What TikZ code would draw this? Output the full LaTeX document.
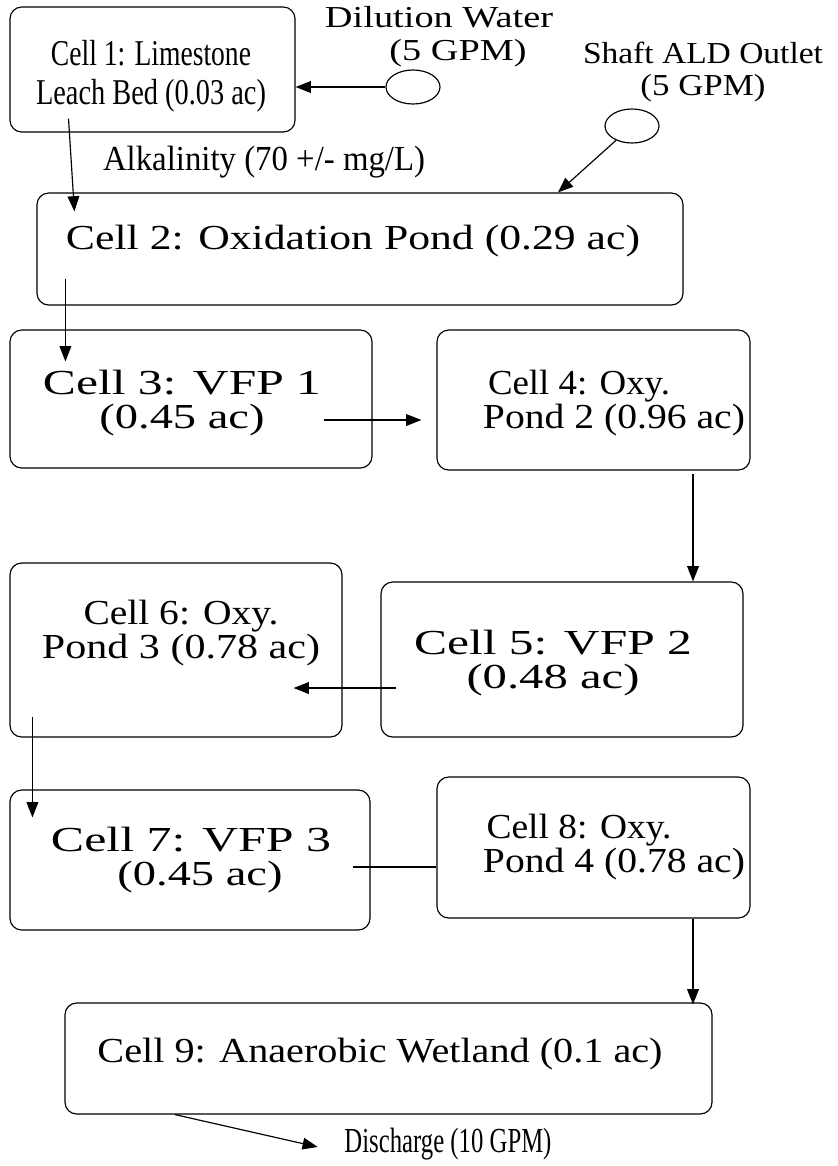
\documentclass[tikz,border=0pt]{standalone}
\usepackage{fontspec}
\setmainfont{Liberation Serif}
\usepackage{graphicx}
\usetikzlibrary{arrows.meta,shapes.geometric}

% one pixel of the layout grid, and a line squeezed/stretched to a given width
\newlength\pxu
\setlength\pxu{0.03cm}
\newcommand{\fitw}[2]{\resizebox{#1\pxu}{\height}{#2}}

\begin{document}
\begin{tikzpicture}[
    x=0.03cm, y=-0.03cm,
    >={Triangle[length=13pt,width=10pt]},
    cell/.style 2 args={
        draw=black,
        line width=1pt,
        rounded corners=10pt,
        minimum width=#1*0.03cm,
        minimum height=#2*0.03cm,
        inner sep=0pt
    },
    source/.style={draw=black, ellipse, line width=1pt, inner sep=0pt,
        minimum width=54*0.03cm, minimum height=34*0.03cm},
    txt/.style={align=center, inner sep=0pt, font=\fontsize{30}{29.5}\selectfont},
    small/.style={align=center, inner sep=0pt, font=\fontsize{26}{28}\selectfont},
    flow/.style={->, line width=1pt},
    link/.style={line width=1pt}
]
\useasboundingbox (0,0) rectangle (838,1166);

% --- Cells ---
\node[cell={285}{125}] (c1) at (152.5,69.5) {};
\node[cell={646}{112}] (c2) at (360,249) {};
\node[cell={362}{138}] (c3) at (191,399) {};
\node[cell={313}{140}] (c4) at (593.5,400) {};
\node[cell={362}{155}] (c5) at (562,659.5) {};
\node[cell={332}{174}] (c6) at (176,650) {};
\node[cell={360}{140}] (c7) at (190,860) {};
\node[cell={313}{141}] (c8) at (593.5,847.5) {};
\node[cell={647}{111}] (c9) at (388.5,1058.5) {};

% --- Cell texts ---
\node[txt, font=\fontsize{31}{33}\selectfont] (t1) at (151,76)
    {\fitw{200}{Cell 1: Limestone}\\\fitw{230}{Leach Bed (0.03 ac)}};
\node[txt] (t2) at (353,241) {\fitw{574}{Cell 2: Oxidation Pond (0.29 ac)}};
\node[txt] (t3) at (182,403) {\fitw{278}{Cell 3: VFP 1}\\\fitw{165}{(0.45 ac)}};
\node[txt] (t4) at (579,403) {\fitw{182}{Cell 4: Oxy.}\\\hspace*{70\pxu}\fitw{262}{Pond 2 (0.96 ac)}};
\node[txt] (t5) at (553,663) {\fitw{278}{Cell 5: VFP 2}\\\fitw{173}{(0.48 ac)}};
\node[txt] (t6) at (181,633) {\fitw{195}{Cell 6: Oxy.}\\\fitw{278}{Pond 3 (0.78 ac)}};
\node[txt] (t7) at (191,860) {\fitw{280}{Cell 7: VFP 3}\\\hspace*{18\pxu}\fitw{165}{(0.45 ac)}};
\node[txt] (t8) at (579,847) {\fitw{185}{Cell 8: Oxy.}\\\hspace*{70\pxu}\fitw{262}{Pond 4 (0.78 ac)}};
\node[txt] (t9) at (380,1054) {\fitw{565}{Cell 9: Anaerobic Wetland (0.1 ac)}};

% --- Inflows ---
\node[small] (dil) at (439,37) {\fitw{228}{Dilution Water}\\\hspace*{38\pxu}\fitw{137}{(5 GPM)}};
\node[small] (shaft) at (703,72) {\fitw{240}{Shaft ALD Outlet}\\\fitw{125}{(5 GPM)}};
\node[source] (e1) at (413,87) {};
\node[source] (e2) at (632,126) {};
\node[txt] (alk) at (264,162) {\fitw{322}{Alkalinity (70 +/- mg/L)}};
\node[txt] (dis) at (448,1144) {\fitw{207}{Discharge (10 GPM)}};

% --- Flow arrows ---
\draw[flow] (e1) -- (e1 -| c1.east);
\draw[flow] (e2) -- ([shift={(198,0)}]c2.north);
\draw[flow] ([shift={(-84,-14)}]c1.south) -- ([shift={(38,19)}]c2.north west);
\draw[flow] ([shift={(29,-27)}]c2.south west) -- ([shift={(56,32)}]c3.north west);
\draw[flow] ([shift={(-49,21)}]c3.east) -- ([shift={(-15,20)}]c4.west);
\draw[flow] ([shift={(99.5,3)}]c4.south) -- ([shift={(131,0)}]c5.north);
\draw[flow] ([shift={(16,28.5)}]c5.west) -- ([shift={(-49,38)}]c6.east);
\draw[flow] ([shift={(23,-21)}]c6.south west) -- ([shift={(23,28)}]c7.north west);
\draw[link] ([shift={(-18,7)}]c7.east) -- ([shift={(0,19.5)}]c8.west);
\draw[flow] ([shift={(99.5,0)}]c8.south) -- ([shift={(304.5,2)}]c9.north);
\draw[flow] ([shift={(-213.5,0)}]c9.south) -- ([shift={(-26.5,3)}]dis.west);

\end{tikzpicture}
\end{document}
